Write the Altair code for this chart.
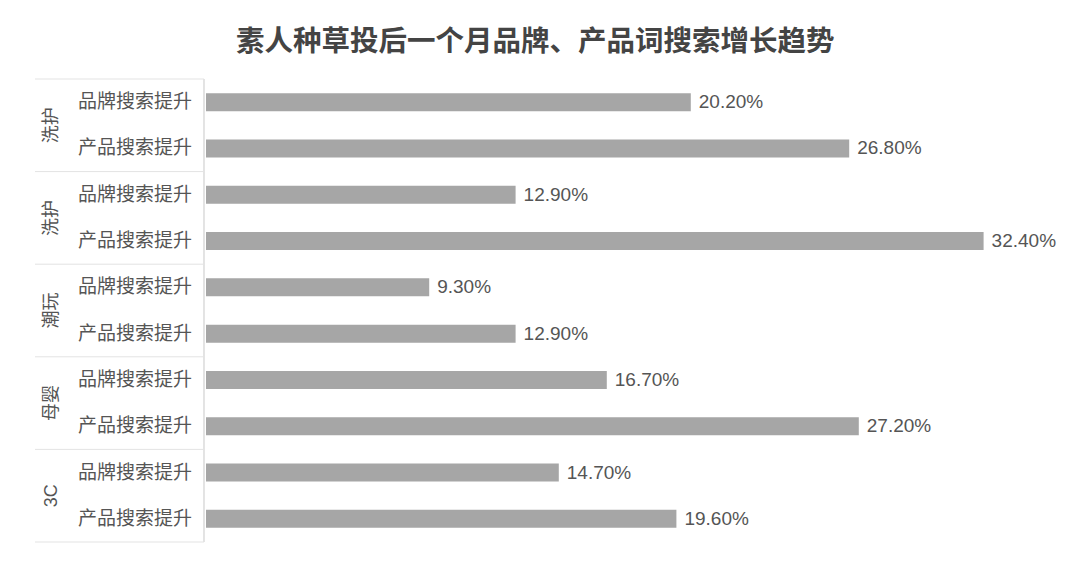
import altair as alt
import pandas as pd

groups = ["洗护", "洗护", "潮玩", "母婴", "3C"]
metrics = ["品牌搜索提升", "产品搜索提升"]
brand_values = [20.2, 12.9, 9.3, 16.7, 14.7]
product_values = [26.8, 32.4, 12.9, 27.2, 19.6]

rows = []
for i, g in enumerate(groups):
    for j, (m, v) in enumerate(zip(metrics, [brand_values[i], product_values[i]])):
        rows.append({"gid": i, "group": g, "metric": m, "value": v,
                     "row": i * len(metrics) + j})
df = pd.DataFrame(rows)
group_df = pd.DataFrame({"gid": list(range(len(groups))), "group": groups})
bound_df = pd.DataFrame({"b": list(range(len(groups) + 1))})

FONT = "Liberation Sans, Noto Sans CJK SC, sans-serif"
TEXT = "#555555"
BAR = "#a6a6a6"
LINE = "#e3e3e3"
H = 463
LEFT_W = 169
RIGHT_W = 816
N = len(df)

y_q = alt.Scale(domain=[N, 0], nice=False, zero=False)

# left label panel
metric_text = alt.Chart(df).transform_calculate(yc="datum.row + 0.5").mark_text(
    align="right", baseline="middle", fontSize=19, color=TEXT, font=FONT
).encode(
    x=alt.value(157),
    y=alt.Y("yc:Q", scale=y_q, axis=None),
    text="metric:N",
)
group_text = alt.Chart(group_df).transform_calculate(
    yc="datum.gid * 2 + 1"
).mark_text(
    align="center", baseline="middle", angle=270, fontSize=18, color=TEXT, font=FONT
).encode(
    x=alt.value(17),
    y=alt.Y("yc:Q", scale=y_q, axis=None),
    text="group:N",
)
hlines = alt.Chart(bound_df).transform_calculate(yc="datum.b * 2").mark_rule(
    color=LINE, strokeWidth=1
).encode(
    y=alt.Y("yc:Q", scale=y_q, axis=None),
)
vline = alt.Chart(bound_df).mark_rule(color=LINE, strokeWidth=1).encode(
    x=alt.value(LEFT_W), y=alt.value(0), y2=alt.value(H)
)
left = alt.layer(hlines, vline, group_text, metric_text).properties(
    width=LEFT_W, height=H
)

# right bar panel
base = alt.Chart(df).transform_calculate(
    label="format(datum.value, '.2f') + '%'"
)
y_enc = alt.Y("row:O", axis=None,
              scale=alt.Scale(paddingInner=0.6, paddingOuter=0.3))
x_enc = alt.X("value:Q", axis=None, scale=alt.Scale(domain=[0, 34], nice=False))
bars = base.mark_bar(color=BAR, size=18).encode(x=x_enc, y=y_enc)
labels = base.mark_text(align="left", baseline="middle", dx=8, fontSize=19,
                        color=TEXT, font=FONT).encode(x=x_enc, y=y_enc, text="label:N")
right = alt.layer(bars, labels).properties(width=RIGHT_W, height=H)

chart = alt.hconcat(left, right, spacing=0).properties(
    title=alt.Title("素人种草投后一个月品牌、产品词搜索增长趋势", fontSize=28.5,
                    fontWeight="bold", color="#444444", font=FONT, anchor="middle",
                    offset=22, dx=-10),
    padding={"top": 19, "left": 26, "right": 5, "bottom": 5},
    background="white",
).configure_view(stroke="transparent")

chart.save("out.html", embed_options={"renderer": "svg", "actions": False})
